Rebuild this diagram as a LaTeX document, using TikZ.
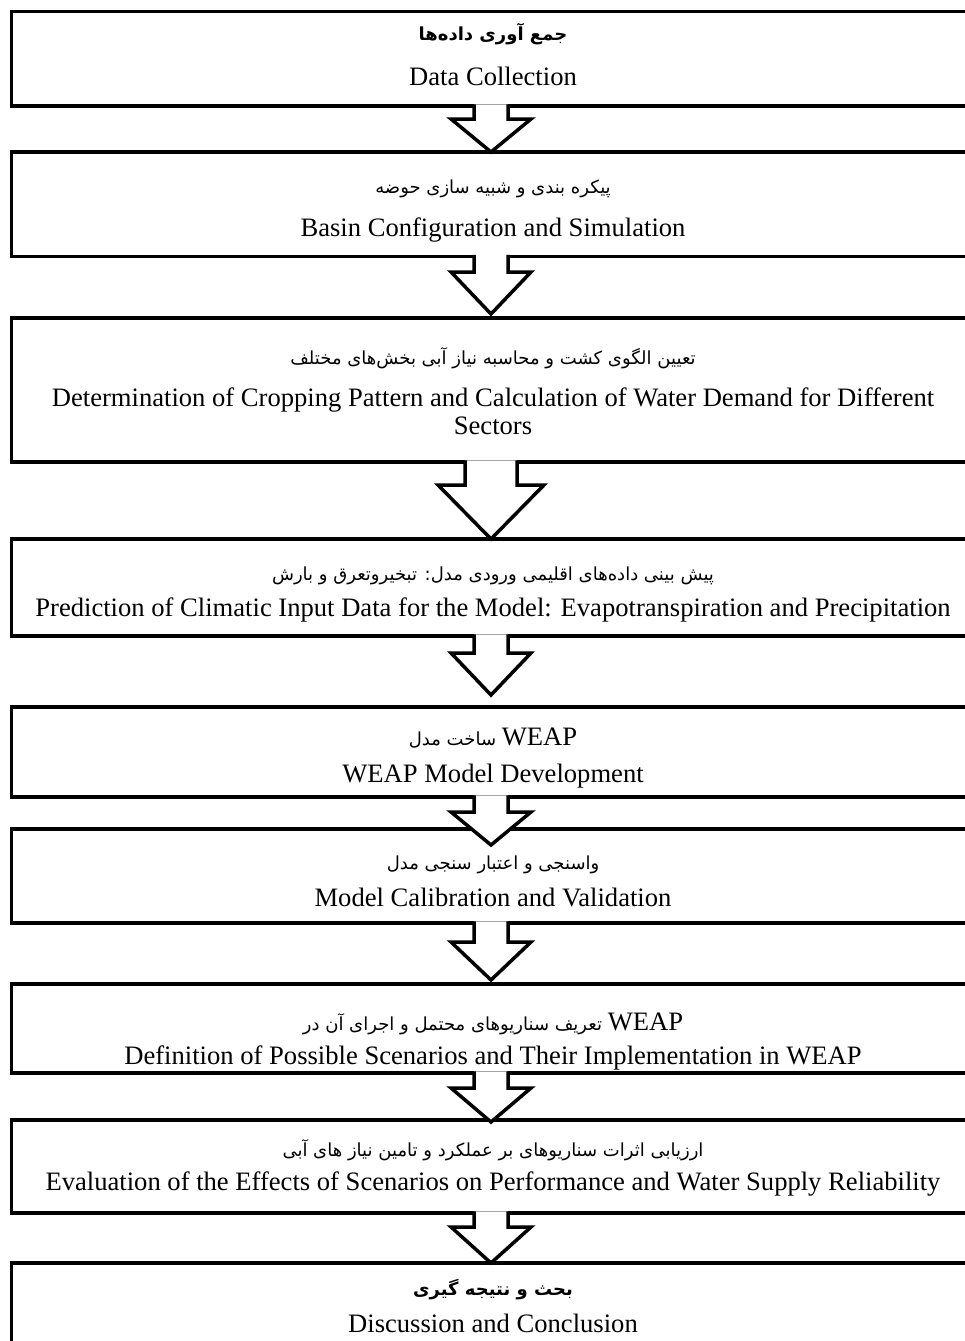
\documentclass[tikz,border=0pt]{standalone}
\usepackage{fontspec}
\setmainfont{Liberation Serif}
\newfontfamily\fafont[Script=Arabic]{DejaVu Sans}
\TeXXeTstate=1
\usetikzlibrary{positioning,calc}

\begin{document}
\begin{tikzpicture}[x=1pt,y=-1pt,
    stepbox/.style={draw, line width=3.5pt, minimum width=959pt, outer sep=0pt, inner sep=0pt},
    en/.style={font=\fontsize{26.6}{28}\selectfont, align=center, inner sep=0pt},
    fa/.style={font=\fafont\fontsize{18}{22}\selectfont, inner sep=0pt},
    fab/.style={font=\fafont\bfseries\fontsize{18}{22}\selectfont, inner sep=0pt},
    blockarrow/.style={draw, fill=white, line width=3.5pt, line join=miter}]
    \useasboundingbox (0,0) rectangle (964,1341);

    % Boxes of the flow
    \node[stepbox, minimum height=94.5pt] (b1) at (491,58.75) {};
    \node[stepbox, minimum height=104.5pt] (b2) at (491,204.25) {};
    \node[stepbox, minimum height=144pt] (b3) at (491,390) {};
    \node[stepbox, minimum height=97pt] (b4) at (491,587.5) {};
    \node[stepbox, minimum height=90pt] (b5) at (491,752) {};
    \node[stepbox, minimum height=94pt] (b6) at (491,876) {};
    \node[stepbox, minimum height=89pt] (b7) at (491,1028.5) {};
    \node[stepbox, minimum height=93pt] (b8) at (491,1166.5) {};
    \node[stepbox, minimum height=97pt] (b9) at (491,1311.5) {};

    % Block arrows between boxes
    \foreach \a/\b/\t/\h/\w/\k in {b1/b2/0/33/40/17, b2/b3/4/42/40/17, b3/b4/0/54/53/26,
        b4/b5/12/42/40/17, b5/b6/-16/33/40/17, b6/b7/4/38/40/17, b7/b8/-2/34/40/17, b8/b9/0/36/40/17}
        \draw[blockarrow] ([xshift=-\k pt, yshift=1.75pt]\a.south)
            -- ([xshift=-\k pt, yshift=\t pt+\h pt]\b.north)
            -- ([xshift=-\w pt, yshift=\t pt+\h pt]\b.north)
            -- ([yshift=\t pt]\b.north)
            -- ([xshift=\w pt, yshift=\t pt+\h pt]\b.north)
            -- ([xshift=\k pt, yshift=\t pt+\h pt]\b.north)
            -- ([xshift=\k pt, yshift=1.75pt]\a.south);

    % Texts
    \node[fab, anchor=base] (t1) at (493,40) {\beginR جمع آوری داده‌ها\endR};
    \node[en, anchor=base] (e1) at (493,85.5) {Data Collection};
    \node[fa, anchor=base] (t2) at (493,193) {\beginR پیکره بندی و شبیه سازی حوضه\endR};
    \node[en, anchor=base] (e2) at (493,236) {Basin Configuration and Simulation};
    \node[fa, anchor=base] (t3) at (493,364) {\beginR تعیین الگوی کشت و محاسبه نیاز آبی بخش‌های مختلف\endR};
    \node[en] (e3) at (493,411) {Determination of Cropping Pattern and Calculation of Water Demand for Different\\Sectors};
    \node[fa, anchor=base] (t4) at (493,580) {\beginR پیش بینی داده‌های اقلیمی ورودی مدل: تبخیروتعرق و بارش\endR};
    \node[en, anchor=base] (e4) at (493,616) {Prediction of Climatic Input Data for the Model: Evapotranspiration and Precipitation};
    \node[fa, anchor=base] (t5) at (493,745) {\beginR ساخت مدل\endR{} {\rmfamily\fontsize{26.6}{28}\selectfont WEAP}};
    \node[en, anchor=base] (e5) at (493,782.5) {WEAP Model Development};
    \node[fa, anchor=base] (t6) at (493,869) {\beginR واسنجی و اعتبار سنجی مدل\endR};
    \node[en, anchor=base] (e6) at (493,906) {Model Calibration and Validation};
    \node[fa, anchor=base] (t7) at (493,1030) {\beginR تعریف سناریوهای محتمل و اجرای آن در\endR{} {\rmfamily\fontsize{26.6}{28}\selectfont WEAP}};
    \node[en, anchor=base] (e7) at (493,1064) {Definition of Possible Scenarios and Their Implementation in WEAP};
    \node[fa, anchor=base] (t8) at (493,1156) {\beginR ارزیابی اثرات سناریوهای بر عملکرد و تامین نیاز های آبی\endR};
    \node[en, anchor=base] (e8) at (493,1190) {Evaluation of the Effects of Scenarios on Performance and Water Supply Reliability};
    \node[fab, anchor=base] (t9) at (493,1295) {\beginR بحث و نتیجه گیری\endR};
    \node[en, anchor=base] (e9) at (493,1332) {Discussion and Conclusion};
\end{tikzpicture}
\end{document}
